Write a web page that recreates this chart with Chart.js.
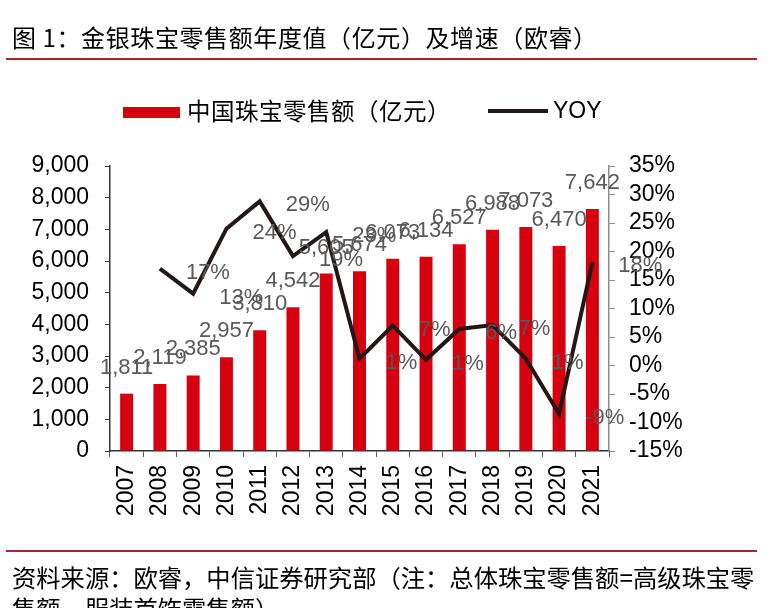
<!DOCTYPE html>
<html>
<head>
<meta charset="utf-8">
<script src="https://cdn.jsdelivr.net/npm/chart.js@4.4.1/dist/chart.umd.min.js"></script>
<style>
  body { margin: 0; background: #fff; }
  #wrap { position: relative; width: 772px; height: 608px; overflow: hidden; background: #fff; }
  #salesChart { position: absolute; left: 0; top: 0; }
  .cn { font-family: "Noto Sans CJK SC", sans-serif; color: #000; position: absolute; white-space: nowrap; }
  .rule { position: absolute; left: 6px; width: 751px; height: 2px; background: #a8262b; }
  .key { position: absolute; }
</style>
</head>
<body>
<div id="wrap">
  <canvas id="salesChart" width="772" height="608"></canvas>
  <div class="cn" style="left:12px; top:22px; font-size:24px; letter-spacing:0.6px; line-height:30px;">图 1：金银珠宝零售额年度值（亿元）及增速（欧睿）</div>
  <div class="rule" style="top:58px;"></div>

  <div class="key" style="left:123px; top:107px; width:57px; height:11px; background:#d7000f;"></div>
  <div class="cn" style="left:187px; top:95px; font-size:23.5px; letter-spacing:0.5px; line-height:30px;">中国珠宝零售额（亿元）</div>
  <div class="key" style="left:488px; top:109px; width:60px; height:4px; background:#231815;"></div>
  <div style="position:absolute; left:553px; top:96px; font-family:'Liberation Sans', Arial, sans-serif; font-size:23px; line-height:28px; color:#000;">YOY</div>

  <div class="rule" style="top:550px;"></div>
  <div class="cn" style="left:12px; top:561px; font-size:24.3px; line-height:31px;">资料来源：欧睿，中信证券研究部（注：总体珠宝零售额=高级珠宝零<br>售额，服装首饰零售额）</div>
</div>
<script>
const years = ['2007', '2008', '2009', '2010', '2011', '2012', '2013', '2014', '2015', '2016', '2017', '2018', '2019', '2020', '2021'];
const retailSales = [1811, 2119, 2385, 2957, 3810, 4542, 5605, 5674, 6073, 6134, 6527, 6988, 7073, 6470, 7642];
const yoyGrowth = [null, 17.0, 12.6, 24.0, 28.8, 19.2, 23.4, 1.2, 7.0, 1.0, 6.4, 7.1, 1.2, -8.5, 18.1];
const salesTicks = [0, 1000, 2000, 3000, 4000, 5000, 6000, 7000, 8000, 9000];
const yoyTicks = [-15, -10, -5, 0, 5, 10, 15, 20, 25, 30, 35];

const labelFont = '22px "Liberation Sans", Arial, sans-serif';

// value labels above bars and to the right of the YOY points
const valueLabels = {
    id: 'valueLabels',
    afterDatasetsDraw(chart) {
        const ctx = chart.ctx;
        ctx.save();
        ctx.font = labelFont;
        ctx.fillStyle = '#595959';
        ctx.textBaseline = 'alphabetic';

        const bars = chart.getDatasetMeta(0).data;
        ctx.textAlign = 'center';
        bars.forEach((bar, i) => {
            ctx.fillText(retailSales[i].toLocaleString('en-US'), bar.x, bar.y - 20);
        });

        const points = chart.getDatasetMeta(1).data;
        ctx.textAlign = 'left';
        points.forEach((pt, i) => {
            if (yoyGrowth[i] === null) return;
            ctx.fillText(yoyGrowth[i].toFixed(0) + '%', pt.x + 26, pt.y + 10);
        });
        ctx.restore();
    }
};

const salesChartContext = document.getElementById('salesChart').getContext('2d');

const salesChart = new Chart(salesChartContext, {
    type: 'bar',
    data: {
        labels: years,
        datasets: [
            {
                label: '中国珠宝零售额（亿元）',
                data: retailSales,
                backgroundColor: '#d7000f',
                borderWidth: 0,
                barPercentage: 0.39,
                categoryPercentage: 1,
                yAxisID: 'y',
                order: 1
            },
            {
                type: 'line',
                label: 'YOY',
                data: yoyGrowth,
                borderColor: '#231815',
                backgroundColor: '#231815',
                borderWidth: 4,
                pointRadius: 0,
                tension: 0,
                yAxisID: 'y1',
                order: 0
            }
        ]
    },
    options: {
        responsive: false,
        animation: false,
        devicePixelRatio: 1,
        layout: { padding: { left: 0, top: 166, right: 83, bottom: 77 } },
        plugins: {
            legend: { display: false },
            tooltip: { enabled: false }
        },
        scales: {
            x: {
                offset: true,
                grid: { offset: true, drawOnChartArea: false, drawTicks: true, tickLength: 6, color: '#595959' },
                border: { display: true, color: '#333333', width: 1.5 },
                ticks: {
                    color: '#000',
                    font: { family: '"Liberation Sans", Arial, sans-serif', size: 23 },
                    maxRotation: 90,
                    minRotation: 90,
                    padding: 8,
                    autoSkip: false
                },
                afterFit(scale) { scale.height = 80; }
            },
            y: {
                position: 'left',
                min: 0,
                max: 9000,
                afterBuildTicks(scale) { scale.ticks = salesTicks.map(v => ({ value: v })); },
                grid: { drawOnChartArea: false, drawTicks: true, tickLength: 5, color: '#333333' },
                border: { display: true, color: '#333333', width: 1.5 },
                ticks: {
                    color: '#000',
                    font: { family: '"Liberation Sans", Arial, sans-serif', size: 23 },
                    padding: 16,
                    autoSkip: false,
                    callback: v => v.toLocaleString('en-US')
                },
                afterFit(scale) { scale.width = 110; }
            },
            y1: {
                position: 'right',
                min: -15,
                max: 35,
                afterBuildTicks(scale) { scale.ticks = yoyTicks.map(v => ({ value: v })); },
                grid: { drawOnChartArea: false, drawTicks: true, tickLength: 6, color: '#8c8c8c' },
                border: { display: true, color: '#8c8c8c', width: 1.5 },
                ticks: {
                    color: '#000',
                    font: { family: '"Liberation Sans", Arial, sans-serif', size: 23 },
                    padding: 14,
                    autoSkip: false,
                    callback: v => v + '%'
                },
                afterFit(scale) { scale.width = 80; }
            }
        }
    },
    plugins: [valueLabels]
});
</script>
</body>
</html>
